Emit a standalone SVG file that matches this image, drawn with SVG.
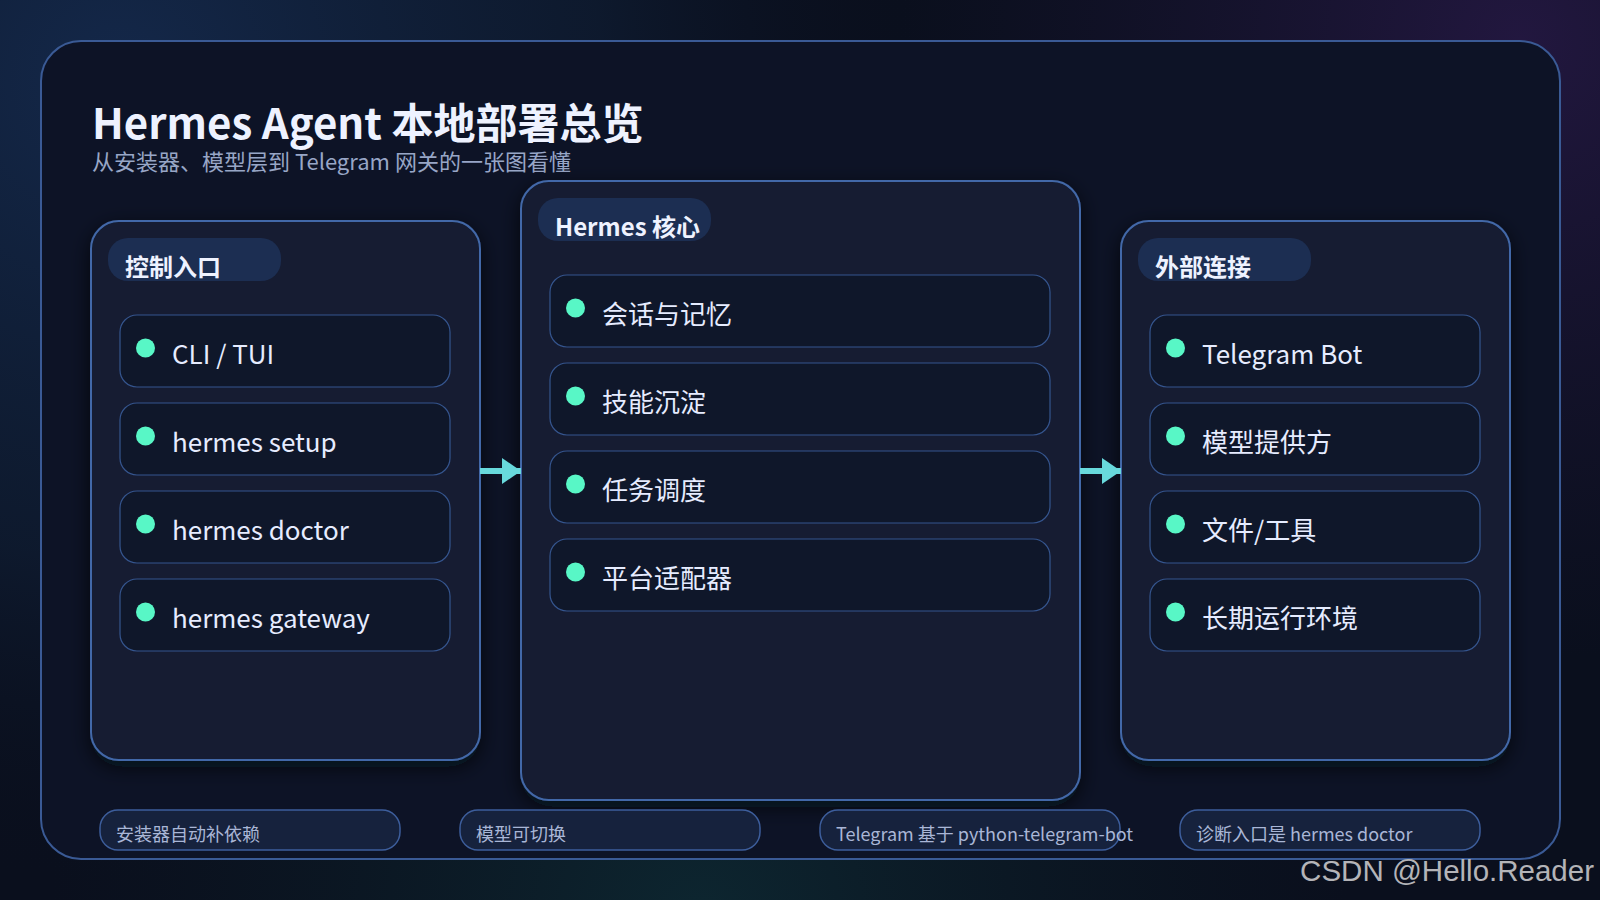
<svg xmlns="http://www.w3.org/2000/svg" width="1600" height="900" viewBox="0 0 1600 900">
<defs>
<radialGradient id="gTL" cx="120" cy="80" r="800" gradientUnits="userSpaceOnUse">
<stop offset="0" stop-color="#14284a"/><stop offset="0.6" stop-color="#102038" stop-opacity="0.6"/><stop offset="1" stop-color="#0a1020" stop-opacity="0"/>
</radialGradient>
<radialGradient id="gTR" cx="1520" cy="40" r="620" gradientUnits="userSpaceOnUse">
<stop offset="0" stop-color="#22173f"/><stop offset="1" stop-color="#1a1433" stop-opacity="0"/>
</radialGradient>
<radialGradient id="gB" cx="700" cy="920" r="650" gradientUnits="userSpaceOnUse">
<stop offset="0" stop-color="#0d2630"/><stop offset="1" stop-color="#0b1a24" stop-opacity="0"/>
</radialGradient>
<filter id="sh" x="-10%" y="-10%" width="120%" height="120%">
<feDropShadow dx="0" dy="6" stdDeviation="10" flood-color="#050811" flood-opacity="0.7"/>
</filter>
<marker id="arr" markerUnits="userSpaceOnUse" markerWidth="20" markerHeight="26" refX="19" refY="13" orient="auto">
<path d="M0,0 L19,13 L0,26 Z" fill="#68d9dc"/>
</marker>
<style>
.panel{fill:#121b30;stroke:#4368a8;stroke-width:2}
.pill{fill:#1c2e52}
.ptitle{font-family:"Noto Sans CJK SC","Noto Sans",sans-serif;font-size:24px;font-weight:700;fill:#eef2ff}
.item{fill:#0f172a;stroke:#35558e;stroke-width:1.2}
.dot{fill:#58f7c6}
.itxt{font-family:"Noto Sans CJK SC","Noto Sans",sans-serif;font-size:26px;fill:#e6ecff}
.note{fill:#16223d;stroke:#3d5e9c;stroke-width:1.5}
.ntxt{font-family:"Noto Sans CJK SC","Noto Sans",sans-serif;font-size:18px;fill:#a9b6d6}
.conn{stroke:#68d9dc;stroke-width:6;fill:none}
</style>
</defs>
<rect width="1600" height="900" fill="#0a0f1d"/>
<rect width="1600" height="900" fill="url(#gTL)"/>
<rect width="1600" height="900" fill="url(#gTR)"/>
<rect width="1600" height="900" fill="url(#gB)"/>

<g id="frame">
<rect x="41" y="41" width="1519" height="818" rx="40" fill="#0d1326" stroke="#3a5a95" stroke-width="2"/>
<text x="92" y="139" font-family="'Noto Sans CJK SC','Noto Sans',sans-serif" font-size="42" font-weight="700" fill="#eef2ff">Hermes Agent 本地部署总览</text>
<text x="92" y="170" font-family="'Noto Sans CJK SC','Noto Sans',sans-serif" font-size="22" fill="#98a6c6">从安装器、模型层到 Telegram 网关的一张图看懂</text>
</g>

<g id="control">
<rect class="panel" x="91" y="221" width="389" height="539" rx="28" filter="url(#sh)"/>
<rect class="pill" x="108" y="238" width="173" height="43" rx="20"/>
<text class="ptitle" x="125" y="276">控制入口</text>
<g id="cli"><rect class="item" x="120" y="315" width="330" height="72" rx="17"/><circle class="dot" cx="145.5" cy="348" r="9.5"/><text class="itxt" x="172" y="364">CLI / TUI</text></g>
<g id="setup"><rect class="item" x="120" y="403" width="330" height="72" rx="17"/><circle class="dot" cx="145.5" cy="436" r="9.5"/><text class="itxt" x="172" y="452">hermes setup</text></g>
<g id="doctor"><rect class="item" x="120" y="491" width="330" height="72" rx="17"/><circle class="dot" cx="145.5" cy="524" r="9.5"/><text class="itxt" x="172" y="540">hermes doctor</text></g>
<g id="gateway"><rect class="item" x="120" y="579" width="330" height="72" rx="17"/><circle class="dot" cx="145.5" cy="612" r="9.5"/><text class="itxt" x="172" y="628">hermes gateway</text></g>
</g>

<g id="core">
<rect class="panel" x="521" y="181" width="559" height="619" rx="28" filter="url(#sh)"/>
<rect class="pill" x="538" y="198" width="173" height="43" rx="20"/>
<text class="ptitle" x="555" y="236">Hermes 核心</text>
<g id="memory"><rect class="item" x="550" y="275" width="500" height="72" rx="17"/><circle class="dot" cx="575.5" cy="308" r="9.5"/><text class="itxt" x="602" y="324">会话与记忆</text></g>
<g id="skills"><rect class="item" x="550" y="363" width="500" height="72" rx="17"/><circle class="dot" cx="575.5" cy="396" r="9.5"/><text class="itxt" x="602" y="412">技能沉淀</text></g>
<g id="sched"><rect class="item" x="550" y="451" width="500" height="72" rx="17"/><circle class="dot" cx="575.5" cy="484" r="9.5"/><text class="itxt" x="602" y="500">任务调度</text></g>
<g id="adapter"><rect class="item" x="550" y="539" width="500" height="72" rx="17"/><circle class="dot" cx="575.5" cy="572" r="9.5"/><text class="itxt" x="602" y="588">平台适配器</text></g>
</g>

<g id="external">
<rect class="panel" x="1121" y="221" width="389" height="539" rx="28" filter="url(#sh)"/>
<rect class="pill" x="1138" y="238" width="173" height="43" rx="20"/>
<text class="ptitle" x="1155" y="276">外部连接</text>
<g id="tgbot"><rect class="item" x="1150" y="315" width="330" height="72" rx="17"/><circle class="dot" cx="1175.5" cy="348" r="9.5"/><text class="itxt" x="1202" y="364">Telegram Bot</text></g>
<g id="provider"><rect class="item" x="1150" y="403" width="330" height="72" rx="17"/><circle class="dot" cx="1175.5" cy="436" r="9.5"/><text class="itxt" x="1202" y="452">模型提供方</text></g>
<g id="files"><rect class="item" x="1150" y="491" width="330" height="72" rx="17"/><circle class="dot" cx="1175.5" cy="524" r="9.5"/><text class="itxt" x="1202" y="540">文件/工具</text></g>
<g id="runtime"><rect class="item" x="1150" y="579" width="330" height="72" rx="17"/><circle class="dot" cx="1175.5" cy="612" r="9.5"/><text class="itxt" x="1202" y="628">长期运行环境</text></g>
</g>

<g id="connectors">
<line class="conn" x1="480" y1="471" x2="521" y2="471" marker-end="url(#arr)"/>
<line class="conn" x1="1080" y1="471" x2="1121" y2="471" marker-end="url(#arr)"/>
</g>

<g id="notes">
<g id="note1"><rect class="note" x="100" y="810" width="300" height="40" rx="18"/><text class="ntxt" x="116" y="841">安装器自动补依赖</text></g>
<g id="note2"><rect class="note" x="460" y="810" width="300" height="40" rx="18"/><text class="ntxt" x="476" y="841">模型可切换</text></g>
<g id="note3"><rect class="note" x="820" y="810" width="300" height="40" rx="18"/><text class="ntxt" x="836" y="841">Telegram 基于 python-telegram-bot</text></g>
<g id="note4"><rect class="note" x="1180" y="810" width="300" height="40" rx="18"/><text class="ntxt" x="1196" y="841">诊断入口是 hermes doctor</text></g>
</g>

<text x="1594" y="881" text-anchor="end" font-family="'Liberation Sans',Arial,sans-serif" font-size="29.5" fill="#b4b4b8">CSDN @Hello.Reader</text>
</svg>
